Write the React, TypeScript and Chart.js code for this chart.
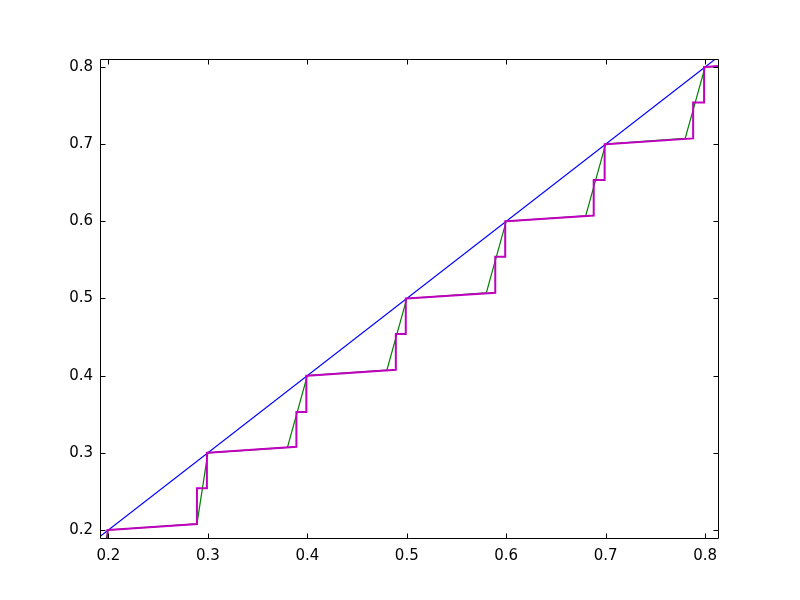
import React, { useEffect, useRef } from "react";
import { Chart, registerables } from "chart.js";

Chart.register(...registerables);

const xTicks = [0.2, 0.3, 0.4, 0.5, 0.6, 0.7, 0.8];
const yTicks = [0.2, 0.3, 0.4, 0.5, 0.6, 0.7, 0.8];

const blueX = [0.1, 0.9];
const blueY = [0.1, 0.9];

const greenX = [0.1, 0.18, 0.2, 0.289, 0.3, 0.38, 0.4, 0.48, 0.5, 0.58, 0.6, 0.68, 0.7, 0.78, 0.8, 0.83];
const greenY = [0.1, 0.1072, 0.2, 0.2078, 0.3, 0.3071, 0.4, 0.4072, 0.5, 0.5072, 0.6, 0.6072, 0.7, 0.7074, 0.8, 0.8027];

const magentaX = [
  0.1, 0.188, 0.188, 0.199, 0.199,
  0.2, 0.289, 0.289, 0.299, 0.299,
  0.3, 0.389, 0.389, 0.399, 0.399,
  0.4, 0.489, 0.489, 0.499, 0.499,
  0.5, 0.589, 0.589, 0.599, 0.599,
  0.6, 0.688, 0.688, 0.699, 0.699,
  0.7, 0.788, 0.788, 0.799, 0.799,
  0.8, 0.83,
];
const magentaY = [
  0.1, 0.1075, 0.154, 0.154, 0.2,
  0.2, 0.2078, 0.254, 0.254, 0.3,
  0.3, 0.3078, 0.353, 0.353, 0.4,
  0.4, 0.4075, 0.454, 0.454, 0.5,
  0.5, 0.5075, 0.554, 0.554, 0.6,
  0.6, 0.6075, 0.6535, 0.6535, 0.7,
  0.7, 0.7075, 0.754, 0.754, 0.8,
  0.8, 0.8025,
];

const X_MIN = 0.1915;
const X_MAX = 0.814;
const Y_MIN = 0.1883;
const Y_MAX = 0.8104;

const toPts = (xs: number[], ys: number[]) => xs.map((x, i) => ({ x, y: ys[i] }));

const framePlugin = {
  id: "frame",
  afterDatasetsDraw(chart: any) {
    const { ctx, chartArea } = chart;
    const { left, right, top, bottom } = chartArea;
    const xs = chart.scales.x;
    const ys = chart.scales.y;
    ctx.save();
    ctx.strokeStyle = "#000";
    ctx.lineWidth = 1;
    const L = Math.round(left) + 0.5;
    const R = Math.round(right) - 0.5;
    const T = Math.round(top) + 0.5;
    const B = Math.round(bottom) - 0.5;
    ctx.beginPath();
    ctx.rect(L, T, R - L, B - T);
    ctx.stroke();
    const len = 5;
    ctx.beginPath();
    xTicks.forEach((v) => {
      const px = Math.round(xs.getPixelForValue(v)) + 0.5;
      ctx.moveTo(px, B);
      ctx.lineTo(px, B - len);
      ctx.moveTo(px, T);
      ctx.lineTo(px, T + len);
    });
    yTicks.forEach((v) => {
      const py = Math.round(ys.getPixelForValue(v)) + 0.5;
      ctx.moveTo(L, py);
      ctx.lineTo(L + len, py);
      ctx.moveTo(R, py);
      ctx.lineTo(R - len, py);
    });
    ctx.stroke();
    ctx.restore();
  },
};

export default function App() {
  const ref = useRef<HTMLCanvasElement | null>(null);
  useEffect(() => {
    if (!ref.current) return;
    const font = { family: "DejaVu Sans", size: 15 };
    const chart = new Chart(ref.current, {
      type: "line",
      data: {
        datasets: [
          {
            data: toPts(magentaX, magentaY),
            borderColor: "#bf00bf",
            borderWidth: 2,
            pointRadius: 0,
            fill: false,
            tension: 0,
            clip: 0,
          },
          {
            data: toPts(blueX, blueY),
            borderColor: "#0000ff",
            borderWidth: 1.2,
            pointRadius: 0,
            fill: false,
            tension: 0,
            clip: 0,
          },
          {
            data: toPts(greenX, greenY),
            borderColor: "#008000",
            borderWidth: 1.2,
            pointRadius: 0,
            fill: false,
            tension: 0,
            clip: 0,
          },
        ],
      },
      options: {
        responsive: false,
        animation: false,
        devicePixelRatio: 1,
        parsing: false,
        layout: { padding: { top: 59, right: 81, left: 0, bottom: 0 } },
        plugins: { legend: { display: false }, tooltip: { enabled: false } },
        scales: {
          x: {
            type: "linear",
            min: X_MIN,
            max: X_MAX,
            grid: { display: false, drawTicks: false },
            border: { display: false },
            afterBuildTicks: (s: any) => {
              s.ticks = xTicks.map((v) => ({ value: v }));
            },
            afterFit: (s: any) => {
              s.height = 61;
            },
            ticks: {
              color: "#000",
              font,
              padding: 8,
              maxRotation: 0,
              autoSkip: false,
              callback: (v: any) => Number(v).toFixed(1),
            },
          },
          y: {
            type: "linear",
            min: Y_MIN,
            max: Y_MAX,
            grid: { display: false, drawTicks: false },
            border: { display: false },
            afterBuildTicks: (s: any) => {
              s.ticks = yTicks.map((v) => ({ value: v }));
            },
            afterFit: (s: any) => {
              s.width = 100;
            },
            ticks: {
              color: "#000",
              font,
              padding: 7,
              autoSkip: false,
              callback: (v: any) => Number(v).toFixed(1),
            },
          },
        },
      },
      plugins: [framePlugin],
    } as any);
    return () => chart.destroy();
  }, []);
  return (
    <div style={{ position: "absolute", left: 0, top: 0, width: 800, height: 600, background: "#fff" }}>
      <canvas ref={ref} width={800} height={600} style={{ display: "block" }} />
    </div>
  );
}
